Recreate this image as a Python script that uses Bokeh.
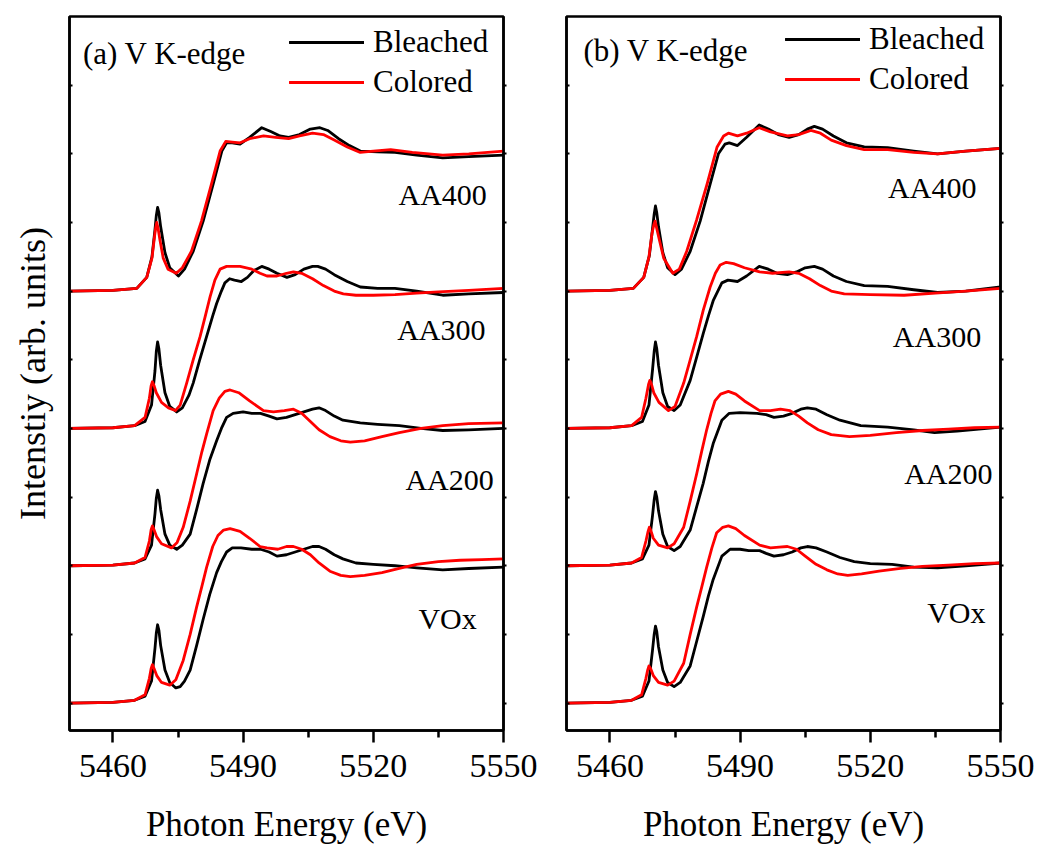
import math
from bokeh.plotting import figure
from bokeh.models import (LinearAxis, FixedTicker, Label, Legend, LegendItem,
                          Range1d, CustomJSTickFormatter)
from bokeh.layouts import row
from bokeh.embed import file_html
from bokeh.resources import INLINE

# ---------------- data ----------------
samples = ["VOx", "AA200", "AA300", "AA400"]
offsets = [0, 1, 2, 3]
series_names = ["Bleached", "Colored"]
series_colors = ["#000000", "#ff0000"]
x_ticks = [5460, 5490, 5520, 5550]
x_minor_ticks = [5475, 5505, 5535]
y_ticks = [0, 0.5, 1.0, 1.5, 2.0, 2.5, 3.0, 3.5, 4.0, 4.5]
X_RANGE = (5450, 5550)
Y_RANGE = (-0.2, 5.0)

# ----- panel (a) -----
a_vox_bleached_e = [5450, 5460, 5465, 5467.4, 5468.9, 5469.7, 5470.0, 5470.3, 5470.6, 5471.0, 5472.0, 5473.1, 5474.5, 5475.5, 5476.5, 5477.8, 5479.3, 5480.8, 5482.3, 5483.9, 5485.0, 5486.2, 5487.5, 5489.5, 5492, 5494, 5496, 5497.8, 5500, 5502, 5504, 5506, 5507.5, 5509, 5511, 5513, 5516, 5520, 5525, 5530, 5536, 5542, 5550]
a_vox_bleached_mu = [0, 0.005, 0.02, 0.05, 0.16, 0.40, 0.51, 0.57, 0.53, 0.42, 0.24, 0.15, 0.11, 0.12, 0.16, 0.24, 0.42, 0.61, 0.79, 0.95, 1.03, 1.10, 1.13, 1.13, 1.12, 1.12, 1.10, 1.07, 1.08, 1.10, 1.12, 1.14, 1.14, 1.12, 1.08, 1.05, 1.02, 1.01, 1.00, 0.985, 0.97, 0.98, 0.99]
a_vox_colored_e = [5450, 5460, 5465, 5467.4, 5468.4, 5468.8, 5469.1, 5469.5, 5470.1, 5471.2, 5473.1, 5474.5, 5476.2, 5477.8, 5479.3, 5480.5, 5481.6, 5483.0, 5484.2, 5485.5, 5487.0, 5489.3, 5491.5, 5493.9, 5495.5, 5498, 5500, 5501.6, 5503.5, 5505.5, 5507.5, 5510, 5512.5, 5514.7, 5518, 5522, 5526, 5530, 5535, 5540, 5545, 5550]
a_vox_colored_mu = [0, 0.005, 0.02, 0.06, 0.18, 0.25, 0.28, 0.25, 0.20, 0.15, 0.13, 0.17, 0.31, 0.50, 0.70, 0.85, 0.99, 1.14, 1.22, 1.26, 1.27, 1.25, 1.20, 1.14, 1.13, 1.12, 1.14, 1.14, 1.12, 1.08, 1.02, 0.96, 0.93, 0.92, 0.93, 0.95, 0.98, 1.01, 1.03, 1.04, 1.045, 1.05]

a_200_bleached_e = [5450, 5460, 5465, 5467.4, 5468.9, 5469.7, 5470.0, 5470.3, 5470.6, 5471.0, 5472.0, 5473.1, 5474.7, 5476, 5477.8, 5479.3, 5480.8, 5482.3, 5483.9, 5485.0, 5486.2, 5487.7, 5490, 5492, 5494, 5496, 5497.8, 5500, 5502, 5504, 5506, 5507.5, 5509, 5511, 5513, 5517, 5521, 5526, 5531, 5536, 5542, 5550]
a_200_bleached_mu = [0, 0.005, 0.02, 0.05, 0.15, 0.38, 0.49, 0.55, 0.51, 0.41, 0.23, 0.15, 0.12, 0.15, 0.23, 0.41, 0.60, 0.77, 0.91, 1.00, 1.08, 1.11, 1.12, 1.11, 1.11, 1.09, 1.07, 1.08, 1.10, 1.12, 1.14, 1.15, 1.13, 1.09, 1.06, 1.04, 1.03, 1.02, 1.0, 0.985, 0.99, 1.0]
a_200_colored_e = [5450, 5460, 5465, 5467.4, 5468.4, 5468.8, 5469.1, 5469.5, 5470.1, 5471.2, 5473.5, 5474.8, 5476.2, 5477.8, 5479.3, 5480.5, 5481.6, 5483.1, 5484.5, 5485.8, 5487.0, 5489, 5491.5, 5494.7, 5497, 5499.5, 5501.6, 5503.5, 5505.5, 5507.5, 5510, 5512.5, 5514.7, 5518, 5522, 5526, 5531, 5536, 5542, 5550]
a_200_colored_mu = [0, 0.005, 0.02, 0.06, 0.18, 0.26, 0.29, 0.26, 0.21, 0.16, 0.13, 0.17, 0.28, 0.47, 0.67, 0.83, 0.96, 1.13, 1.22, 1.27, 1.28, 1.26, 1.20, 1.13, 1.12, 1.13, 1.14, 1.11, 1.05, 0.99, 0.94, 0.91, 0.90, 0.91, 0.94, 0.97, 1.0, 1.02, 1.035, 1.04]

a_300_bleached_e = [5450, 5460, 5465, 5467.4, 5468.9, 5469.7, 5470.0, 5470.3, 5470.6, 5471.0, 5472.0, 5473.1, 5474.7, 5476, 5477.5, 5478.5, 5480, 5481.6, 5483, 5483.9, 5485, 5485.8, 5486.9, 5488, 5489.6, 5491, 5492.5, 5494.3, 5496, 5497.8, 5500.1, 5502, 5504, 5506, 5507.2, 5509, 5511, 5514, 5517, 5521, 5525, 5530, 5536, 5542, 5550]
a_300_bleached_mu = [0, 0.005, 0.02, 0.05, 0.17, 0.42, 0.56, 0.63, 0.58, 0.46, 0.26, 0.16, 0.12, 0.15, 0.24, 0.33, 0.50, 0.67, 0.82, 0.91, 1.0, 1.06, 1.09, 1.08, 1.07, 1.10, 1.15, 1.18, 1.16, 1.13, 1.10, 1.12, 1.16, 1.18, 1.18, 1.16, 1.12, 1.07, 1.03, 1.02, 1.02, 1.0, 0.97, 0.98, 0.99]
a_300_colored_e = [5450, 5460, 5465, 5467.4, 5468.4, 5468.8, 5469.1, 5469.5, 5470.0, 5471.2, 5472.8, 5474.4, 5475.5, 5477.0, 5478.5, 5480.1, 5481.3, 5482.4, 5483.5, 5484.7, 5486.2, 5489.3, 5492, 5493.9, 5495.5, 5497.8, 5500, 5501.6, 5503.5, 5506, 5508.5, 5511, 5513.1, 5516, 5520, 5525, 5530, 5535, 5542, 5550]
a_300_colored_mu = [0, 0.005, 0.02, 0.08, 0.22, 0.31, 0.34, 0.31, 0.26, 0.19, 0.15, 0.13, 0.17, 0.33, 0.50, 0.67, 0.82, 0.96, 1.08, 1.16, 1.18, 1.18, 1.16, 1.13, 1.11, 1.11, 1.13, 1.14, 1.13, 1.09, 1.04, 1.0, 0.98, 0.97, 0.97, 0.975, 0.985, 0.995, 1.005, 1.02]

a_400_bleached_e = [5450, 5460, 5465.5, 5467.8, 5469.0, 5469.7, 5470.0, 5470.3, 5470.6, 5471.0, 5472.0, 5473.1, 5475.1, 5476.5, 5478.5, 5480.8, 5483.1, 5485.1, 5486.2, 5487.5, 5489.3, 5491.5, 5494.3, 5496.5, 5498.5, 5500.5, 5503, 5505.5, 5507.7, 5509.5, 5512, 5514.5, 5517, 5521, 5525, 5530, 5536, 5542, 5550]
a_400_bleached_mu = [0, 0.005, 0.02, 0.10, 0.25, 0.45, 0.55, 0.61, 0.57, 0.47, 0.28, 0.17, 0.11, 0.16, 0.29, 0.51, 0.78, 1.02, 1.08, 1.08, 1.07, 1.12, 1.19, 1.16, 1.13, 1.12, 1.14, 1.18, 1.19, 1.17, 1.11, 1.06, 1.02, 1.015, 1.01, 0.99, 0.97, 0.98, 0.99]
a_400_colored_e = [5450, 5460, 5465.5, 5467.8, 5469.0, 5469.6, 5469.85, 5470.1, 5470.4, 5470.8, 5471.6, 5472.7, 5474.6, 5476, 5478.1, 5480.4, 5482.7, 5484.7, 5486.0, 5487.5, 5489.3, 5491.5, 5494.7, 5497.5, 5500.5, 5503, 5506, 5508.5, 5511, 5514, 5517, 5520, 5524, 5529, 5536, 5542, 5550]
a_400_colored_mu = [0, 0.005, 0.02, 0.10, 0.24, 0.40, 0.46, 0.50, 0.46, 0.38, 0.24, 0.16, 0.13, 0.17, 0.29, 0.51, 0.78, 1.02, 1.09, 1.085, 1.08, 1.11, 1.13, 1.12, 1.11, 1.13, 1.15, 1.14, 1.10, 1.05, 1.01, 1.02, 1.03, 1.01, 0.99, 1.0, 1.02]

# ----- panel (b) -----
b_vox_bleached_e = [5450, 5460, 5465, 5467.5, 5469.0, 5469.8, 5470.2, 5470.5, 5470.8, 5471.2, 5472.2, 5473.3, 5474.8, 5476.2, 5478.5, 5480, 5481.5, 5482.7, 5483.8, 5485.8, 5487.7, 5490, 5492, 5494.5, 5496, 5497.8, 5500, 5502, 5504, 5505.5, 5507.5, 5510, 5513, 5516.3, 5520, 5525, 5530, 5535.5, 5542, 5550]
b_vox_bleached_mu = [0, 0.005, 0.02, 0.05, 0.16, 0.38, 0.50, 0.56, 0.52, 0.41, 0.24, 0.15, 0.12, 0.15, 0.27, 0.45, 0.63, 0.78, 0.90, 1.07, 1.12, 1.12, 1.11, 1.11, 1.09, 1.07, 1.08, 1.10, 1.13, 1.14, 1.13, 1.10, 1.06, 1.03, 1.015, 1.01, 0.99, 0.985, 1.0, 1.02]
b_vox_colored_e = [5450, 5460, 5465, 5467.3, 5468.3, 5468.7, 5469.0, 5469.4, 5470.0, 5471.2, 5473.3, 5474.8, 5477.0, 5478.5, 5480.0, 5481.2, 5482.3, 5483.5, 5484.6, 5486, 5487.3, 5489, 5491, 5494.5, 5497, 5499, 5500.9, 5503, 5505, 5507.5, 5510, 5512.5, 5514.8, 5518, 5522, 5527, 5532, 5538, 5544, 5550]
b_vox_colored_mu = [0, 0.005, 0.02, 0.06, 0.18, 0.24, 0.27, 0.25, 0.20, 0.15, 0.13, 0.16, 0.29, 0.50, 0.70, 0.85, 0.99, 1.13, 1.24, 1.28, 1.29, 1.27, 1.22, 1.15, 1.13, 1.135, 1.14, 1.12, 1.07, 1.01, 0.97, 0.94, 0.93, 0.94, 0.96, 0.98, 0.995, 1.005, 1.015, 1.02]

b_200_bleached_e = [5450, 5460, 5465, 5467.5, 5469.0, 5469.8, 5470.2, 5470.5, 5470.8, 5471.2, 5472.2, 5473.3, 5474.8, 5476.2, 5478.5, 5480, 5481.5, 5482.7, 5483.8, 5485.8, 5487.5, 5490, 5493.9, 5496, 5497.8, 5500, 5502, 5504, 5505.5, 5507.5, 5510, 5513, 5517.8, 5524, 5530, 5534.8, 5540, 5545, 5550]
b_200_bleached_mu = [0, 0.005, 0.02, 0.05, 0.15, 0.36, 0.48, 0.54, 0.50, 0.40, 0.23, 0.14, 0.11, 0.14, 0.26, 0.43, 0.60, 0.76, 0.89, 1.06, 1.11, 1.115, 1.11, 1.10, 1.08, 1.09, 1.11, 1.14, 1.15, 1.14, 1.10, 1.06, 1.02, 1.01, 0.99, 0.97, 0.98, 0.995, 1.01]
b_200_colored_e = [5450, 5460, 5465, 5467.3, 5468.3, 5468.8, 5469.1, 5469.5, 5470.0, 5471.2, 5473.3, 5474.8, 5477.0, 5478.5, 5480.0, 5481.2, 5482.3, 5483.3, 5484.2, 5485.5, 5487.3, 5489, 5491, 5494.5, 5497, 5499.3, 5501.5, 5503.5, 5505.5, 5508, 5511, 5515.2, 5520, 5526, 5532, 5538, 5544, 5550]
b_200_colored_mu = [0, 0.005, 0.02, 0.06, 0.18, 0.25, 0.28, 0.25, 0.20, 0.15, 0.13, 0.16, 0.28, 0.47, 0.67, 0.84, 0.99, 1.11, 1.20, 1.25, 1.27, 1.25, 1.20, 1.13, 1.13, 1.14, 1.13, 1.09, 1.04, 0.99, 0.955, 0.94, 0.95, 0.97, 0.985, 0.995, 1.005, 1.01]

b_300_bleached_e = [5450, 5460, 5465, 5467.5, 5469.0, 5469.8, 5470.2, 5470.5, 5470.8, 5471.2, 5472.2, 5473.3, 5474.8, 5476.2, 5478.5, 5480, 5481.5, 5482.7, 5483.8, 5485.8, 5487.2, 5489.4, 5491.5, 5494.4, 5496.5, 5498.5, 5500.9, 5503, 5505, 5507.1, 5509, 5511.5, 5514.5, 5518.6, 5524, 5530, 5535.5, 5542, 5550]
b_300_bleached_mu = [0, 0.005, 0.02, 0.05, 0.17, 0.42, 0.56, 0.63, 0.58, 0.46, 0.26, 0.16, 0.13, 0.17, 0.35, 0.52, 0.69, 0.82, 0.93, 1.06, 1.08, 1.07, 1.11, 1.18, 1.16, 1.13, 1.12, 1.14, 1.17, 1.18, 1.16, 1.11, 1.07, 1.04, 1.035, 1.01, 0.99, 1.0, 1.03]
b_300_colored_e = [5450, 5460, 5465, 5467.3, 5468.3, 5468.9, 5469.2, 5469.6, 5470.1, 5471.3, 5473.5, 5475, 5477.0, 5478.5, 5480.0, 5481.5, 5483.1, 5484.3, 5485.4, 5486.8, 5488.5, 5491, 5494.5, 5497.5, 5501.3, 5503.5, 5506, 5508.5, 5511, 5514, 5520, 5527.8, 5535, 5542, 5550]
b_300_colored_mu = [0, 0.005, 0.02, 0.08, 0.22, 0.32, 0.35, 0.32, 0.26, 0.19, 0.13, 0.16, 0.33, 0.50, 0.67, 0.86, 1.03, 1.13, 1.19, 1.21, 1.20, 1.17, 1.14, 1.13, 1.14, 1.13, 1.09, 1.04, 1.0, 0.98, 0.975, 0.97, 0.985, 1.0, 1.02]

b_400_bleached_e = [5450, 5460, 5465.4, 5467.8, 5469.1, 5469.8, 5470.2, 5470.5, 5470.8, 5471.2, 5472.2, 5473.3, 5475.0, 5476.5, 5478.5, 5480.8, 5483.1, 5485.0, 5486.5, 5487.5, 5489.4, 5491.5, 5494.4, 5496.5, 5498.8, 5501.3, 5503.5, 5505.5, 5507.1, 5509, 5511.5, 5514.5, 5518.6, 5524, 5530, 5535.5, 5542, 5550]
b_400_bleached_mu = [0, 0.005, 0.02, 0.10, 0.26, 0.45, 0.56, 0.62, 0.57, 0.47, 0.28, 0.17, 0.12, 0.16, 0.29, 0.51, 0.78, 1.0, 1.07, 1.08, 1.06, 1.12, 1.21, 1.18, 1.14, 1.12, 1.14, 1.18, 1.20, 1.18, 1.13, 1.08, 1.05, 1.045, 1.02, 1.0, 1.02, 1.04]
b_400_colored_e = [5450, 5460, 5465.4, 5467.8, 5469.0, 5469.7, 5470.1, 5470.4, 5470.7, 5471.2, 5472.4, 5474.5, 5476, 5477.7, 5480, 5482.4, 5484.7, 5486.2, 5487.3, 5489.4, 5491.5, 5494.4, 5497, 5500.9, 5503.5, 5506.3, 5508.5, 5511, 5514.5, 5518.6, 5524, 5530, 5535.5, 5542, 5550]
b_400_colored_mu = [0, 0.005, 0.02, 0.10, 0.25, 0.42, 0.48, 0.51, 0.47, 0.40, 0.24, 0.13, 0.16, 0.29, 0.52, 0.78, 1.05, 1.13, 1.15, 1.13, 1.15, 1.19, 1.16, 1.13, 1.14, 1.17, 1.15, 1.10, 1.06, 1.03, 1.03, 1.01, 1.0, 1.02, 1.04]

panel_a_curves = {
    ("VOx", "Bleached"): (a_vox_bleached_e, a_vox_bleached_mu),
    ("VOx", "Colored"): (a_vox_colored_e, a_vox_colored_mu),
    ("AA200", "Bleached"): (a_200_bleached_e, a_200_bleached_mu),
    ("AA200", "Colored"): (a_200_colored_e, a_200_colored_mu),
    ("AA300", "Bleached"): (a_300_bleached_e, a_300_bleached_mu),
    ("AA300", "Colored"): (a_300_colored_e, a_300_colored_mu),
    ("AA400", "Bleached"): (a_400_bleached_e, a_400_bleached_mu),
    ("AA400", "Colored"): (a_400_colored_e, a_400_colored_mu),
}
panel_b_curves = {
    ("VOx", "Bleached"): (b_vox_bleached_e, b_vox_bleached_mu),
    ("VOx", "Colored"): (b_vox_colored_e, b_vox_colored_mu),
    ("AA200", "Bleached"): (b_200_bleached_e, b_200_bleached_mu),
    ("AA200", "Colored"): (b_200_colored_e, b_200_colored_mu),
    ("AA300", "Bleached"): (b_300_bleached_e, b_300_bleached_mu),
    ("AA300", "Colored"): (b_300_colored_e, b_300_colored_mu),
    ("AA400", "Bleached"): (b_400_bleached_e, b_400_bleached_mu),
    ("AA400", "Colored"): (b_400_colored_e, b_400_colored_mu),
}
for curves in (panel_a_curves, panel_b_curves):
    for k, (e, mu) in curves.items():
        if len(e) != len(mu):
            raise ValueError(f"length mismatch {k}: {len(e)} vs {len(mu)}")
        if any(b <= a for a, b in zip(e, e[1:])):
            raise ValueError(f"energies not increasing {k}")

# ---------------- styling ----------------
FONT = "Liberation Serif"
BLACK = "#000000"
YLABEL = "Intenstiy (arb. units)"
FIG_H = 850


def empty_formatter():
    return CustomJSTickFormatter(code="return ''")


def make_panel(curves, width, border_left, border_right, tag_text, tag_xy,
               sample_xy, legend_loc, show_ylabel):
    p = figure(width=width, height=FIG_H,
               x_range=Range1d(*X_RANGE), y_range=Range1d(*Y_RANGE),
               output_backend="svg", toolbar_location=None,
               min_border_left=border_left, min_border_right=border_right,
               min_border_top=16, min_border_bottom=120)
    p.xgrid.visible = False
    p.ygrid.visible = False
    p.outline_line_color = BLACK
    p.outline_line_width = 2.5
    p.outline_line_alpha = 1.0
    p.background_fill_color = "white"
    p.border_fill_color = "white"

    xa = p.xaxis[0]
    xa.ticker = FixedTicker(ticks=x_ticks, minor_ticks=x_minor_ticks)
    xa.major_tick_out = 12
    xa.major_tick_in = 0
    xa.minor_tick_out = 7
    xa.minor_tick_in = 0
    xa.major_tick_line_width = 2.5
    xa.minor_tick_line_width = 2.5
    xa.axis_line_width = 2.5
    xa.major_tick_line_color = BLACK
    xa.minor_tick_line_color = BLACK
    xa.axis_line_color = BLACK
    xa.major_label_text_font = FONT
    xa.major_label_text_font_size = "34px"
    xa.major_label_text_color = BLACK
    xa.major_label_standoff = 12
    xa.axis_label = "Photon Energy (eV)"
    xa.axis_label_text_font = FONT
    xa.axis_label_text_font_size = "35px"
    xa.axis_label_text_font_style = "normal"
    xa.axis_label_text_color = BLACK
    xa.axis_label_standoff = 25

    ya = p.yaxis[0]
    ya.ticker = FixedTicker(ticks=y_ticks, minor_ticks=[])
    ya.formatter = empty_formatter()
    ya.major_tick_in = 3
    ya.major_tick_out = 0
    ya.minor_tick_in = 0
    ya.minor_tick_out = 0
    ya.major_tick_line_width = 2
    ya.axis_line_width = 2.5
    ya.axis_line_color = BLACK
    ya.major_tick_line_color = BLACK
    ya.major_label_standoff = 0
    if show_ylabel:
        ya.axis_label = YLABEL
        ya.axis_label_text_font = FONT
        ya.axis_label_text_font_size = "36px"
        ya.axis_label_text_font_style = "normal"
        ya.axis_label_text_color = BLACK
        ya.axis_label_standoff = 17

    ra = LinearAxis(ticker=FixedTicker(ticks=y_ticks, minor_ticks=[]),
                    formatter=empty_formatter(),
                    major_tick_in=0, major_tick_out=3,
                    minor_tick_in=0, minor_tick_out=0,
                    major_tick_line_width=2, axis_line_width=2.5,
                    major_label_standoff=0)
    p.add_layout(ra, "right")

    rends = {}
    for name, color in zip(series_names, series_colors):
        for s, off in zip(samples, offsets):
            e, mu = curves[(s, name)]
            r = p.line(e, [m + off for m in mu], line_color=color,
                       line_width=2.8, line_join="round", line_cap="round")
            rends[name] = r

    legend = Legend(items=[LegendItem(label=n, renderers=[rends[n]]) for n in series_names],
                    location=legend_loc, orientation="vertical",
                    padding=0, margin=0, spacing=0,
                    glyph_width=75, glyph_height=40, label_height=40,
                    label_standoff=9, label_text_font=FONT,
                    label_text_font_size="31px", label_text_color=BLACK,
                    border_line_color=None, background_fill_alpha=0)
    p.add_layout(legend)

    p.add_layout(Label(x=tag_xy[0], y=tag_xy[1], text=tag_text,
                       text_font=FONT, text_font_size="31px",
                       text_color=BLACK, text_baseline="alphabetic",
                       text_align="left"))
    for s, (lx, ly) in zip(samples, sample_xy):
        p.add_layout(Label(x=lx, y=ly, text=s, text_font=FONT,
                           text_font_size="30px", text_color=BLACK,
                           text_baseline="alphabetic", text_align="left"))
    return p


pa = make_panel(panel_a_curves, width=560, border_left=69, border_right=57,
                tag_text="(a) V K-edge", tag_xy=(5453.1, 4.734),
                sample_xy=[(5530.4, 0.619), (5527.4, 1.631), (5525.5, 2.717), (5525.8, 3.707)],
                legend_loc=(220, 628), show_ylabel=True)
pb = make_panel(panel_b_curves, width=483, border_left=6, border_right=43,
                tag_text="(b) V K-edge", tag_xy=(5453.9, 4.756),
                sample_xy=[(5533.1, 0.663), (5527.8, 1.675), (5525.2, 2.666), (5524.1, 3.751)],
                legend_loc=(219, 631), show_ylabel=False)

# y-axis title of panel (b): it sits in the gap between the two frames
pa.add_layout(Label(x=5558.1, y=2.37, text=YLABEL, angle=math.pi / 2,
                    text_font=FONT, text_font_size="36px", text_color=BLACK,
                    text_align="center", text_baseline="middle"))

layout = row(pa, pb)
open("out.html", "w").write(file_html(layout, INLINE))
